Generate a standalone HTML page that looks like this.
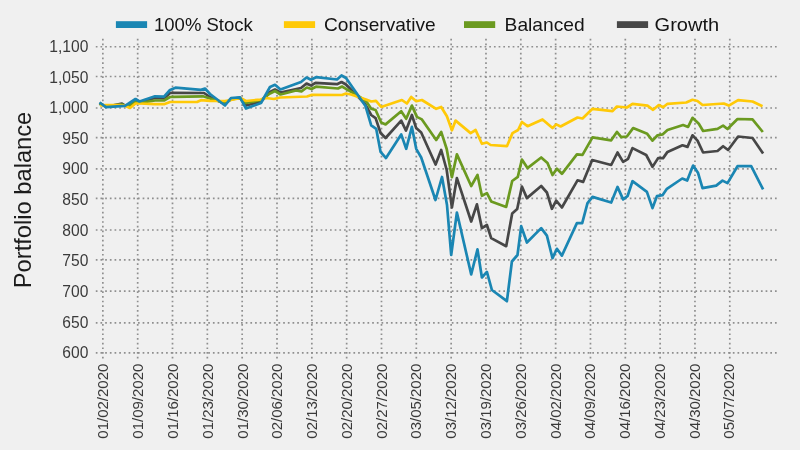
<!DOCTYPE html>
<html><head><meta charset="utf-8"><title>Portfolio balance</title>
<style>
html,body{margin:0;padding:0;background:#f0f0f0;}
body{width:800px;height:450px;overflow:hidden;font-family:"Liberation Sans",sans-serif;}
svg{display:block}
text{font-family:"Liberation Sans",sans-serif;}
.yl{font-size:15.6px;fill:#3a3a3a;text-anchor:end}
.xl{font-size:15px;fill:#3a3a3a;text-anchor:end}
.lg{font-size:18.6px;fill:#141414}
.ttl{font-size:23.4px;fill:#1c1c1c}
.g{stroke:#8f8f8f;stroke-width:1.7;stroke-dasharray:1.7 2.984;fill:none}
.gv{stroke:#8f8f8f;stroke-width:1.7;stroke-dasharray:1.7 2.975;fill:none}
.s{fill:none;stroke-width:2.7;stroke-linejoin:round;stroke-linecap:butt}
</style></head><body>
<svg width="800" height="450" viewBox="0 0 800 450">
<rect width="800" height="450" fill="#f0f0f0"/>

<g>
<rect x="115.9" y="21.2" width="31.2" height="6.8" fill="#1a86b3"/><text class="lg" x="154.0" y="31.3" textLength="98.8" lengthAdjust="spacingAndGlyphs">100% Stock</text>
<rect x="283.9" y="21.2" width="31.2" height="6.8" fill="#ffc907"/><text class="lg" x="324.0" y="31.3" textLength="111.6" lengthAdjust="spacingAndGlyphs">Conservative</text>
<rect x="464" y="21.2" width="31.2" height="6.8" fill="#6b9a20"/><text class="lg" x="504.6" y="31.3" textLength="80.1" lengthAdjust="spacingAndGlyphs">Balanced</text>
<rect x="616.9" y="21.2" width="31.2" height="6.8" fill="#474747"/><text class="lg" x="654.6" y="31.3" textLength="64.6" lengthAdjust="spacingAndGlyphs">Growth</text>
</g>
<g>
<line class="g" x1="95.8" y1="46.75" x2="776.8" y2="46.75"/>
<line class="g" x1="95.8" y1="76.5" x2="776.8" y2="76.5"/>
<line class="g" x1="95.8" y1="108.0" x2="776.8" y2="108.0"/>
<line class="g" x1="95.8" y1="137.7" x2="776.8" y2="137.7"/>
<line class="g" x1="95.8" y1="168.8" x2="776.8" y2="168.8"/>
<line class="g" x1="95.8" y1="198.3" x2="776.8" y2="198.3"/>
<line class="g" x1="95.8" y1="230.0" x2="776.8" y2="230.0"/>
<line class="g" x1="95.8" y1="259.8" x2="776.8" y2="259.8"/>
<line class="g" x1="95.8" y1="291.2" x2="776.8" y2="291.2"/>
<line class="g" x1="95.8" y1="322.8" x2="776.8" y2="322.8"/>
<line class="g" x1="95.8" y1="352.9" x2="776.8" y2="352.9"/>
<line class="gv" x1="102.85" y1="38.85" x2="102.85" y2="359" />
<line class="gv" x1="137.68" y1="38.85" x2="137.68" y2="359" />
<line class="gv" x1="172.51" y1="38.85" x2="172.51" y2="359" />
<line class="gv" x1="207.34" y1="38.85" x2="207.34" y2="359" />
<line class="gv" x1="242.17" y1="38.85" x2="242.17" y2="359" />
<line class="gv" x1="277.00" y1="38.85" x2="277.00" y2="359" />
<line class="gv" x1="311.83" y1="38.85" x2="311.83" y2="359" />
<line class="gv" x1="346.66" y1="38.85" x2="346.66" y2="359" />
<line class="gv" x1="381.49" y1="38.85" x2="381.49" y2="359" />
<line class="gv" x1="416.32" y1="38.85" x2="416.32" y2="359" />
<line class="gv" x1="451.15" y1="38.85" x2="451.15" y2="359" />
<line class="gv" x1="485.98" y1="38.85" x2="485.98" y2="359" />
<line class="gv" x1="520.81" y1="38.85" x2="520.81" y2="359" />
<line class="gv" x1="555.64" y1="38.85" x2="555.64" y2="359" />
<line class="gv" x1="590.47" y1="38.85" x2="590.47" y2="359" />
<line class="gv" x1="625.30" y1="38.85" x2="625.30" y2="359" />
<line class="gv" x1="660.13" y1="38.85" x2="660.13" y2="359" />
<line class="gv" x1="694.96" y1="38.85" x2="694.96" y2="359" />
<line class="gv" x1="729.79" y1="38.85" x2="729.79" y2="359" />
</g>
<g>
<text class="yl" x="88.4" y="52.0">1,100</text>
<text class="yl" x="88.4" y="82.6">1,050</text>
<text class="yl" x="88.4" y="113.2">1,000</text>
<text class="yl" x="88.4" y="143.8">950</text>
<text class="yl" x="88.4" y="174.4">900</text>
<text class="yl" x="88.4" y="205.1">850</text>
<text class="yl" x="88.4" y="235.7">800</text>
<text class="yl" x="88.4" y="266.3">750</text>
<text class="yl" x="88.4" y="296.9">700</text>
<text class="yl" x="88.4" y="327.5">650</text>
<text class="yl" x="88.4" y="358.1">600</text>
</g>
<g>
<text class="xl" transform="translate(108.40,363.6) rotate(-90)">01/02/2020</text>
<text class="xl" transform="translate(143.18,363.6) rotate(-90)">01/09/2020</text>
<text class="xl" transform="translate(177.96,363.6) rotate(-90)">01/16/2020</text>
<text class="xl" transform="translate(212.74,363.6) rotate(-90)">01/23/2020</text>
<text class="xl" transform="translate(247.52,363.6) rotate(-90)">01/30/2020</text>
<text class="xl" transform="translate(282.30,363.6) rotate(-90)">02/06/2020</text>
<text class="xl" transform="translate(317.08,363.6) rotate(-90)">02/13/2020</text>
<text class="xl" transform="translate(351.86,363.6) rotate(-90)">02/20/2020</text>
<text class="xl" transform="translate(386.64,363.6) rotate(-90)">02/27/2020</text>
<text class="xl" transform="translate(421.42,363.6) rotate(-90)">03/05/2020</text>
<text class="xl" transform="translate(456.20,363.6) rotate(-90)">03/12/2020</text>
<text class="xl" transform="translate(490.98,363.6) rotate(-90)">03/19/2020</text>
<text class="xl" transform="translate(525.76,363.6) rotate(-90)">03/26/2020</text>
<text class="xl" transform="translate(560.54,363.6) rotate(-90)">04/02/2020</text>
<text class="xl" transform="translate(595.32,363.6) rotate(-90)">04/09/2020</text>
<text class="xl" transform="translate(630.10,363.6) rotate(-90)">04/16/2020</text>
<text class="xl" transform="translate(664.88,363.6) rotate(-90)">04/23/2020</text>
<text class="xl" transform="translate(699.66,363.6) rotate(-90)">04/30/2020</text>
<text class="xl" transform="translate(734.44,363.6) rotate(-90)">05/07/2020</text>
</g>
<text class="ttl" transform="translate(31,288.2) rotate(-90)" textLength="176.5" lengthAdjust="spacingAndGlyphs">Portfolio balance</text>
<polyline class="s" stroke="#474747" points="99.5,103.0 106.0,106.8 122.0,103.5 125.0,105.5 130.0,105.5 135.5,100.0 139.5,102.0 155.0,98.0 164.0,98.5 170.0,93.0 173.0,92.8 204.0,93.0 210.0,97.0 225.0,104.0 231.0,98.8 240.0,97.8 246.0,105.5 261.0,101.5 270.0,92.0 275.0,89.5 280.5,92.5 301.0,88.0 306.5,83.5 311.0,85.5 315.5,82.8 337.0,84.2 341.5,82.0 346.0,84.5 365.0,103.8 371.2,115.0 375.6,118.1 380.6,133.0 385.6,138.0 401.2,120.6 406.0,130.6 411.9,115.0 416.2,128.1 421.2,132.5 435.6,164.5 441.2,150.0 446.7,170.0 451.9,207.5 456.9,178.1 471.2,221.5 476.9,204.4 481.9,228.1 486.9,225.0 491.2,238.1 506.2,246.2 512.2,213.4 517.2,209.0 521.9,186.5 526.9,198.1 541.2,186.0 546.9,192.5 551.9,208.8 556.2,200.6 561.9,207.5 577.5,180.3 583.1,181.9 592.2,160.0 611.2,165.0 617.5,152.5 623.1,161.9 628.1,158.8 632.5,148.1 646.2,155.0 652.5,166.9 658.1,158.1 663.1,158.1 667.5,151.9 682.5,145.3 687.5,146.9 692.5,135.3 697.5,140.6 703.1,152.5 717.5,151.0 723.1,146.2 728.1,150.0 738.1,136.5 752.5,138.0 763.1,153.5"/>
<polyline class="s" stroke="#6b9a20" points="99.5,104.0 106.0,106.0 122.0,104.5 125.0,105.5 130.0,105.0 135.5,101.5 139.5,102.8 155.0,100.5 164.0,100.5 170.0,97.0 173.0,96.8 203.0,96.3 210.0,98.5 225.0,103.0 231.0,99.5 240.0,98.0 246.0,103.0 261.0,100.0 270.0,93.5 275.0,91.0 280.5,94.5 296.0,90.5 301.5,91.3 306.8,87.5 311.5,89.0 316.0,86.7 338.0,88.5 342.0,86.5 346.0,88.8 355.0,94.0 366.2,101.2 371.2,108.8 375.6,110.0 381.2,122.5 385.6,124.4 401.2,111.2 406.2,118.8 411.9,105.6 416.9,116.9 421.9,119.4 436.2,140.0 441.2,131.9 446.7,149.0 451.9,177.2 456.9,154.4 471.2,186.0 477.5,175.0 481.9,195.8 486.9,193.1 491.2,201.4 506.2,206.9 512.2,181.0 517.8,176.9 521.9,159.6 527.5,168.1 541.2,157.5 547.5,163.1 552.5,175.0 556.9,168.8 561.9,173.8 576.9,154.4 582.5,154.8 592.5,137.3 611.2,140.3 616.9,131.9 621.2,137.2 626.9,136.5 633.1,128.1 647.2,133.8 652.5,140.6 657.5,135.3 662.5,134.4 667.5,130.0 683.1,125.0 688.1,126.9 692.5,117.8 698.8,123.8 703.1,131.0 717.5,128.8 723.1,125.6 727.5,129.0 737.5,119.0 752.5,119.4 762.8,132.0"/>
<polyline class="s" stroke="#ffc907" points="100.0,105.5 106.0,105.2 120.0,105.0 125.0,105.8 130.0,108.0 135.5,103.5 140.0,103.5 155.0,104.2 164.0,104.2 170.0,102.0 197.0,102.0 201.0,100.2 210.0,100.8 225.0,101.0 231.0,100.0 240.5,98.0 246.0,101.0 261.0,99.5 266.0,98.0 274.0,99.0 280.0,97.5 307.0,96.5 312.0,94.8 342.0,95.0 346.0,93.5 351.0,94.5 366.0,99.5 371.2,101.5 376.0,100.8 381.2,107.0 401.9,100.0 406.9,103.5 411.2,96.9 416.2,101.2 421.9,100.0 436.2,108.8 441.2,107.0 446.9,116.2 451.9,130.3 455.6,120.6 470.6,133.1 475.6,130.0 481.9,143.8 486.9,142.5 490.6,145.0 506.9,146.2 512.5,133.1 518.1,130.0 521.9,122.0 527.5,126.2 542.5,119.4 552.5,128.1 556.2,124.4 560.6,126.5 577.5,117.5 582.5,118.5 592.5,108.8 612.5,111.2 616.9,106.5 626.9,107.5 632.5,103.8 647.5,105.6 653.1,109.8 658.8,105.0 663.1,107.2 667.5,103.8 686.2,102.5 692.5,99.8 697.5,101.0 702.5,105.0 723.8,103.5 728.8,105.6 738.1,100.2 752.5,101.5 762.5,106.2"/>
<polyline class="s" stroke="#1a86b3" points="99.5,102.5 106.0,107.2 125.0,105.8 135.5,99.0 139.5,101.5 155.0,96.3 164.0,96.7 170.0,90.0 175.5,87.7 201.0,89.8 205.0,88.5 210.0,94.0 225.0,105.5 231.0,98.0 240.0,97.3 246.0,108.5 261.0,103.0 270.0,87.0 275.0,84.8 280.5,89.5 301.0,82.0 306.5,77.5 311.0,79.8 316.0,77.2 337.0,79.5 341.5,75.5 346.0,78.0 365.5,106.0 371.2,125.3 376.2,128.8 380.6,151.9 386.0,158.1 401.2,134.4 406.2,148.8 411.9,126.9 416.2,148.8 421.2,157.5 435.5,200.0 442.0,177.0 447.0,205.0 451.2,255.0 456.9,212.5 471.2,274.4 477.5,249.4 481.9,277.5 486.9,271.9 491.9,290.0 506.9,301.2 511.9,261.5 517.5,255.0 521.2,226.2 526.9,242.5 541.2,228.1 546.9,235.6 552.5,258.1 556.9,248.8 561.9,255.6 576.9,223.1 582.2,223.1 587.5,203.1 592.5,196.9 611.2,202.5 617.5,186.9 623.1,199.4 627.5,196.2 632.5,181.2 646.9,191.9 652.5,208.1 656.9,196.2 662.5,195.2 666.9,188.8 682.2,178.5 687.2,180.6 693.1,165.6 698.1,173.1 702.5,188.1 716.2,185.6 722.5,180.6 727.5,183.1 737.5,166.2 751.2,166.2 763.1,189.4"/>
</svg></body></html>
